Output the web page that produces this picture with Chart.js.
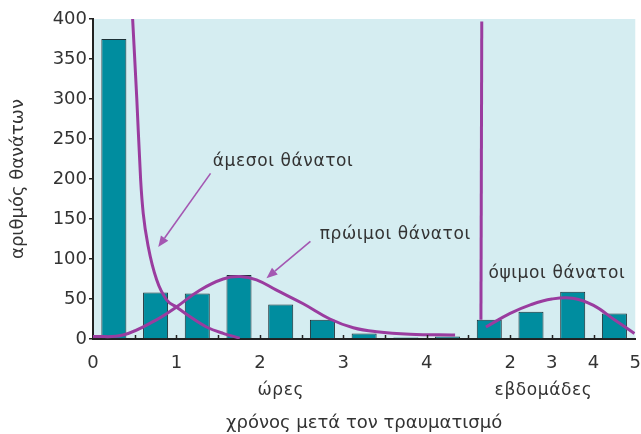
<!DOCTYPE html>
<html>
<head>
<meta charset="utf-8">
<script src="https://cdn.jsdelivr.net/npm/chart.js@4.4.1/dist/chart.umd.min.js"></script>
<style>
  html, body { margin: 0; padding: 0; background: #fff; }
  #wrap { width: 641px; height: 434px; position: relative; }
</style>
</head>
<body>
<div id="wrap"><canvas id="deathsChart"></canvas></div>
<script>
// Bars: hours after injury (half-hour bins) and weeks after injury
const hourBarX = [0.25, 0.75, 1.25, 1.75, 2.25, 2.75, 3.25, 3.75, 4.25];
const hourBarDeaths = [375, 58, 57, 80, 43, 24, 7, 2, 3];
const weekBarX = [1.5, 2.5, 3.5, 4.5];
const weekBarDeaths = [24, 34, 59, 32];

// Curves
const immediateHours = [0.475, 0.525, 0.571, 0.602, 0.663, 0.763, 0.882, 1.0, 1.16, 1.36, 1.56, 1.76];
const immediateDeaths = [400, 300, 199, 157, 115, 74, 49, 40, 28, 15, 7, 1];
const earlyHours = [0.0, 0.36, 0.76, 1.0, 1.28, 1.56, 1.76, 1.96, 2.2, 2.52, 2.84, 3.12, 3.4, 3.8, 4.34];
const earlyDeaths = [3, 5, 24, 40, 61, 75, 78, 74, 61, 44, 25, 14, 9, 6, 5];
const lateWeeks = [1.42, 2.0, 2.5, 3.0, 3.5, 4.0, 4.5, 4.98];
const lateDeaths = [15, 32, 43, 50, 51, 42, 24, 7];
const breakWeeks = [1.32, 1.3];
const breakDeaths = [397, 24];

// Axis tick labels
const hourTicks = [0, 1, 2, 3, 4];
const weekTicks = [2, 3, 4, 5];
const yTicks = [0, 50, 100, 150, 200, 250, 300, 350, 400];

const colors = {
    plotBg: '#d5edf1',
    bar: '#008d9f',
    barEdge: '#1c3036',
    curve: '#9a3c9f',
    arrow: '#a457b2',
    text: '#333333',
    axis: '#222222'
};
const fontFamily = '"DejaVu Sans", sans-serif';

// the week part of the axis starts right after the 4.5 h slot
function weekPos(w) {
    return 4.5 + (w - 1) * 0.5;
}

const barData = hourBarX.map((x, i) => ({ x: x, y: hourBarDeaths[i] }))
    .concat(weekBarX.map((w, i) => ({ x: weekPos(w), y: weekBarDeaths[i] })));
const tickLabels = hourTicks.concat(weekTicks);
const tickValues = hourTicks.concat(weekTicks.map(weekPos));

// annotations, in data units
const notes = [
    { text: 'άμεσοι θάνατοι', x: 1.436, y: 222, from: [1.409, 207], to: [0.782, 115] },
    { text: 'πρώιμοι θάνατοι', x: 2.717, y: 130, from: [2.606, 122], to: [2.079, 76] },
    { text: 'όψιμοι θάνατοι', x: weekPos(1.48), y: 82, from: null, to: null }
];

const plotBackground = {
    id: 'plotBackground',
    beforeDraw(chart) {
        const a = chart.chartArea;
        const ctx = chart.ctx;
        ctx.save();
        ctx.fillStyle = colors.plotBg;
        ctx.fillRect(a.left, a.top, a.right - a.left, a.bottom - a.top);
        ctx.restore();
    }
};

const extras = {
    id: 'extras',
    afterDatasetsDraw(chart) {
        const ctx = chart.ctx;
        const xs = chart.scales.x, ys = chart.scales.y;
        const a = chart.chartArea;
        ctx.save();

        // inward x ticks every half slot
        ctx.strokeStyle = colors.axis;
        ctx.lineWidth = 1.5;
        for (let v = 0.5; v < 6.5; v += 0.5) {
            const px = Math.round(xs.getPixelForValue(v)) + 0.5;
            ctx.beginPath();
            ctx.moveTo(px, a.bottom);
            ctx.lineTo(px, a.bottom - 4);
            ctx.stroke();
        }

        // arrows
        ctx.strokeStyle = colors.arrow;
        ctx.fillStyle = colors.arrow;
        ctx.lineWidth = 1.6;
        notes.forEach(n => {
            if (!n.from) return;
            const x0 = xs.getPixelForValue(n.from[0]), y0 = ys.getPixelForValue(n.from[1]);
            const x1 = xs.getPixelForValue(n.to[0]), y1 = ys.getPixelForValue(n.to[1]);
            const ang = Math.atan2(y1 - y0, x1 - x0);
            const len = 11, half = 4.5;
            const bx = x1 - len * Math.cos(ang), by = y1 - len * Math.sin(ang);
            ctx.beginPath();
            ctx.moveTo(x0, y0);
            ctx.lineTo(bx, by);
            ctx.stroke();
            ctx.beginPath();
            ctx.moveTo(x1, y1);
            ctx.lineTo(bx + half * Math.sin(ang), by - half * Math.cos(ang));
            ctx.lineTo(bx - half * Math.sin(ang), by + half * Math.cos(ang));
            ctx.closePath();
            ctx.fill();
        });

        // labels
        ctx.fillStyle = colors.text;
        ctx.font = '17px ' + fontFamily;
        ctx.letterSpacing = '0.6px';
        ctx.textBaseline = 'middle';
        ctx.textAlign = 'left';
        notes.forEach(n => {
            ctx.fillText(n.text, xs.getPixelForValue(n.x), ys.getPixelForValue(n.y));
        });

        // unit labels under the axis
        ctx.font = '17px ' + fontFamily;
        ctx.textAlign = 'center';
        ctx.fillText('ώρες', xs.getPixelForValue(2.25), a.bottom + 52);
        ctx.fillText('εβδομάδες', xs.getPixelForValue(weekPos(2.8)), a.bottom + 52);
        ctx.restore();
    }
};

const curveStyle = {
    type: 'line',
    borderColor: colors.curve,
    borderWidth: 3,
    pointRadius: 0,
    fill: false,
    tension: 0.4
};

const ctx = document.getElementById('deathsChart').getContext('2d');
new Chart(ctx, {
    type: 'bar',
    data: {
        datasets: [
            Object.assign({}, curveStyle, {
                label: 'άμεσοι θάνατοι',
                cubicInterpolationMode: 'monotone',
                data: immediateHours.map((x, i) => ({ x: x, y: immediateDeaths[i] }))
            }),
            Object.assign({}, curveStyle, {
                label: 'πρώιμοι θάνατοι',
                data: earlyHours.map((x, i) => ({ x: x, y: earlyDeaths[i] }))
            }),
            Object.assign({}, curveStyle, {
                label: 'όψιμοι θάνατοι',
                data: lateWeeks.map((w, i) => ({ x: weekPos(w), y: lateDeaths[i] }))
            }),
            Object.assign({}, curveStyle, {
                label: 'break',
                tension: 0,
                data: breakWeeks.map((w, i) => ({ x: weekPos(w), y: breakDeaths[i] }))
            }),
            {
                label: 'θάνατοι',
                data: barData,
                backgroundColor: colors.bar,
                borderColor: colors.barEdge,
                borderWidth: 1,
                barPercentage: 0.6,
                categoryPercentage: 1.0
            }
        ]
    },
    options: {
        responsive: true,
        maintainAspectRatio: false,
        animation: false,
        layout: {
            padding: { left: 0, right: 5, top: 19, bottom: 0 }
        },
        plugins: {
            legend: { display: false },
            tooltip: { enabled: false }
        },
        scales: {
            x: {
                type: 'linear',
                min: 0,
                max: 6.5,
                offset: false,
                afterFit: function (scale) { scale.height = 95; },
                afterBuildTicks: function (scale) {
                    scale.ticks = tickValues.map(v => ({ value: v }));
                },
                // invisible tick marks push the labels down without widening the side padding
                grid: {
                    display: true,
                    drawOnChartArea: false,
                    drawTicks: true,
                    tickLength: 14,
                    color: 'rgba(0,0,0,0)'
                },
                border: { display: true, color: colors.axis, width: 2 },
                ticks: {
                    autoSkip: false,
                    maxRotation: 0,
                    padding: 0,
                    color: colors.text,
                    font: { family: fontFamily, size: 18 },
                    callback: function (value, index) {
                        return tickLabels[index];
                    }
                },
                title: {
                    display: true,
                    text: 'χρόνος μετά τον τραυματισμό',
                    color: colors.text,
                    padding: { top: 0, bottom: 0 },
                    font: { family: fontFamily, size: 18 }
                }
            },
            y: {
                min: 0,
                max: 400,
                afterFit: function (scale) { scale.width = 93; },
                afterBuildTicks: function (scale) {
                    scale.ticks = yTicks.map(v => ({ value: v }));
                },
                grid: {
                    drawOnChartArea: false,
                    tickLength: 4,
                    color: colors.axis,
                    lineWidth: 1.5
                },
                border: { display: true, color: colors.axis, width: 2 },
                ticks: {
                    padding: 2,
                    color: colors.text,
                    font: { family: fontFamily, size: 18 }
                },
                title: {
                    display: true,
                    text: 'αριθμός θανάτων',
                    color: colors.text,
                    padding: { top: 8, bottom: 0 },
                    font: { family: fontFamily, size: 18 }
                }
            }
        }
    },
    plugins: [plotBackground, extras]
});
</script>
</body>
</html>
